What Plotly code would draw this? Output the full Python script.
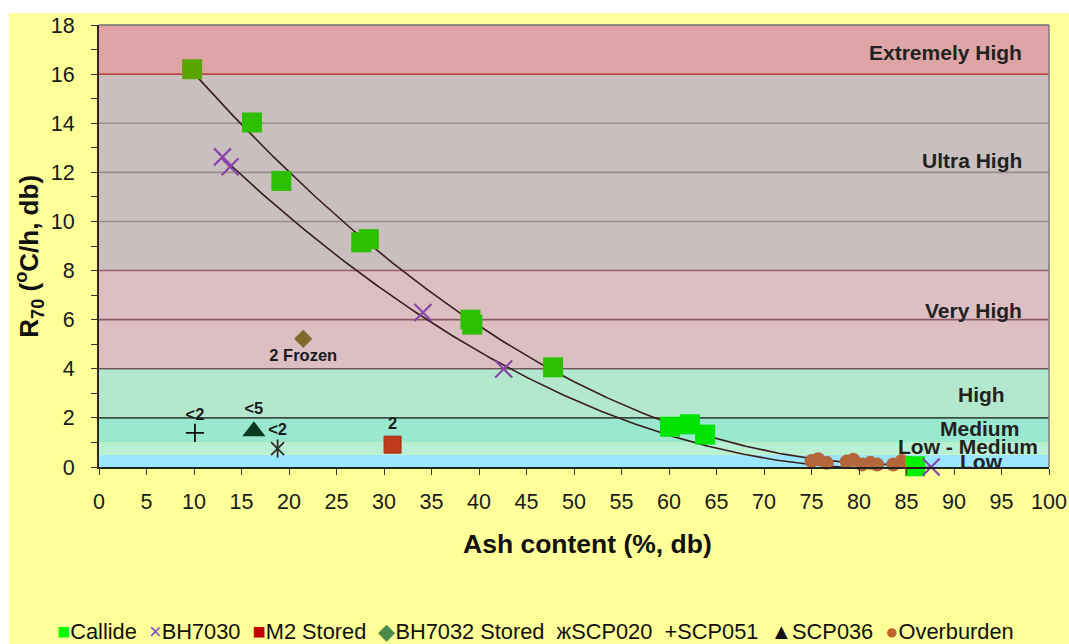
import numpy as np
import plotly.graph_objects as go

# ---------------- data ----------------
callide_x = [9.8, 16.1, 19.2, 27.6, 28.4, 39.1, 39.3, 47.8, 60.1, 62.2, 63.8, 85.9]
callide_y = [16.2, 14.03, 11.65, 9.15, 9.28, 6.0, 5.8, 4.06, 1.64, 1.74, 1.32, 0.03]

bh7030_x = [13.0, 13.8, 34.1, 42.6, 87.6]
bh7030_y = [12.63, 12.23, 6.29, 3.99, 0.0]

m2_x = [30.9]
m2_y = [0.91]
m2_text = ["2"]

bh7032_x = [21.5]
bh7032_y = [5.22]
bh7032_text = ["2 Frozen"]

scp020_x = [18.8]
scp020_y = [0.75]
scp020_text = ["<2"]

scp051_x = [10.1]
scp051_y = [1.39]
scp051_text = ["<2"]

scp036_x = [16.3]
scp036_y = [1.46]
scp036_text = ["<5"]

overburden_x = [75.0, 75.7, 76.6, 78.7, 79.4, 80.3, 81.2, 81.9, 83.6, 84.5, 85.2]
overburden_y = [0.24, 0.32, 0.17, 0.22, 0.30, 0.10, 0.17, 0.10, 0.10, 0.24, 0.17]

band_names = ["Low", "Low - Medium", "Medium", "High", "Very High", "Ultra High", "Extremely High"]
band_lo = [0, 0.5, 1, 2, 4, 8, 16]
band_hi = [0.5, 1, 2, 4, 8, 16, 18]

x_ticks = list(range(0, 101, 5))
y_ticks = list(range(0, 19, 2))

# ---------------- styles ----------------
FONT = "Arial, Liberation Sans, sans-serif"
band_fill = ["#9BE6FF", "#B8F0D4", "#99E8D0", "#B3E8CF", "#DBBFC3", "#C9BFBF", "#DFA4A6"]
band_label_pos = {  # (x, y, xanchor)
    "Low": (92.9, 0.22, "center"),
    "Low - Medium": (91.5, 0.83, "center"),
    "Medium": (92.7, 1.55, "center"),
    "High": (92.9, 2.95, "center"),
    "Very High": (97.4, 6.36, "right"),
    "Ultra High": (97.4, 12.5, "right"),
    "Extremely High": (97.4, 16.9, "right"),
}
grid_colors = {2: "#3E4E44", 4: "#6B5858", 6: "#8C5A62", 8: "#9A5E6C",
               10: "#9C8C8C", 12: "#9C8C8C", 14: "#9C8C8C", 16: "#B84848"}
callide_colors = ["#5AA500"] + ["#2EBF00"] * 7 + ["#00E400"] * 3 + ["#00F000"]


def trend(xs, ys):
    c = np.polyfit(xs, ys, 2)
    xx = np.linspace(min(xs), max(xs), 300)
    return xx, np.polyval(c, xx)


fig = go.Figure()

lblfont = dict(family=FONT, size=16.5, color="#1A1A1A", weight="bold")

# trend lines
tx, ty = trend(callide_x, callide_y)
fig.add_trace(go.Scatter(x=tx, y=ty, mode="lines", line=dict(color="#3A1E1E", width=1.6),
                         showlegend=False, hoverinfo="skip"))
tx, ty = trend(bh7030_x, bh7030_y)
fig.add_trace(go.Scatter(x=tx, y=ty, mode="lines", line=dict(color="#3A1E1E", width=1.6),
                         showlegend=False, hoverinfo="skip"))

fig.add_trace(go.Scatter(x=overburden_x, y=overburden_y, mode="markers", name="Overburden",
                         marker=dict(symbol="circle", size=14, color="#B4673A",
                                     line=dict(width=0)), showlegend=False))
fig.add_trace(go.Scatter(x=callide_x, y=callide_y, mode="markers", name="Callide",
                         marker=dict(symbol="square", size=20, color=callide_colors,
                                     line=dict(width=0)), showlegend=False))
fig.add_trace(go.Scatter(x=bh7030_x, y=bh7030_y, mode="markers", name="BH7030",
                         marker=dict(symbol="x-thin-open", size=17, color="#8A45AA",
                                     line=dict(width=2.2, color="#8A45AA")), showlegend=False))
fig.add_trace(go.Scatter(x=m2_x, y=m2_y, mode="markers+text", name="M2 Stored",
                         text=m2_text, textposition="top center", textfont=lblfont,
                         marker=dict(symbol="square", size=17, color="#C23A1C",
                                     line=dict(width=1, color="#A02A14")), showlegend=False))
fig.add_trace(go.Scatter(x=bh7032_x, y=bh7032_y, mode="markers+text", name="BH7032 Stored",
                         text=bh7032_text, textposition="bottom center", textfont=lblfont,
                         marker=dict(symbol="diamond", size=14, color="#7F6A2E",
                                     line=dict(width=0)), showlegend=False))
fig.add_trace(go.Scatter(x=scp020_x, y=scp020_y, mode="markers+text", name="SCP020",
                         text=scp020_text, textposition="top center", textfont=lblfont,
                         marker=dict(symbol="x-thin-open", size=13, color="#2E2E2E",
                                     line=dict(width=1.8, color="#2E2E2E")), showlegend=False))
fig.add_trace(go.Scatter(x=scp020_x, y=scp020_y, mode="markers",
                         marker=dict(symbol="line-ns-open", size=13, color="#2E2E2E",
                                     line=dict(width=1.8, color="#2E2E2E")),
                         showlegend=False, hoverinfo="skip"))
fig.add_trace(go.Scatter(x=scp051_x, y=scp051_y, mode="markers+text", name="SCP051",
                         text=scp051_text, textposition="top center", textfont=lblfont,
                         marker=dict(symbol="cross-thin-open", size=13, color="#111111",
                                     line=dict(width=1.8, color="#111111")), showlegend=False))
fig.add_trace(go.Scatter(x=scp036_x, y=scp036_y, mode="markers+text", name="SCP036",
                         text=scp036_text, textposition="top center", textfont=lblfont,
                         marker=dict(symbol="triangle-up", size=20, color="#0B3A22",
                                     line=dict(width=0)), showlegend=False))

shapes = []
# white outer margin strips (picture border)
shapes.append(dict(type="rect", xref="paper", yref="paper", x0=-0.2, x1=1.1,
                   y0=(467.5 - 13) / 442.5, y1=1.2, fillcolor="white", line_width=0, layer="below"))
shapes.append(dict(type="rect", xref="paper", yref="paper", x0=-0.2, x1=(9 - 99) / 950,
                   y0=-0.5, y1=1.2, fillcolor="white", line_width=0, layer="below"))
# bands
for lo, hi, col in zip(band_lo, band_hi, band_fill):
    shapes.append(dict(type="rect", xref="x", yref="y", x0=0, x1=100, y0=lo, y1=hi,
                       fillcolor=col, line_width=0, layer="below"))
# grid lines
for yv, col in grid_colors.items():
    shapes.append(dict(type="line", xref="x", yref="y", x0=0, x1=100, y0=yv, y1=yv,
                       line=dict(color=col, width=1.6), layer="between"))
# top / right frame
shapes.append(dict(type="line", xref="paper", yref="paper", x0=0, x1=1, y0=1, y1=1,
                   line=dict(color="#6E6E6E", width=1.5)))
shapes.append(dict(type="line", xref="paper", yref="paper", x0=1, x1=1, y0=0, y1=1,
                   line=dict(color="#7E7E7E", width=1.5)))

annotations = []
for name in band_names:
    bx, by, anc = band_label_pos[name]
    annotations.append(dict(x=bx, y=by, xref="x", yref="y", text=name, showarrow=False,
                            xanchor=anc, yanchor="middle",
                            font=dict(family=FONT, size=21, color="#222222", weight="bold")))

annotations.append(dict(x=(587 - 99) / 950, y=(467.5 - 545) / 442.5, xref="paper", yref="paper",
                        text="Ash content (%, db)", showarrow=False,
                        xanchor="center", yanchor="middle",
                        font=dict(family=FONT, size=26.5, color="#111111", weight="bold")))
annotations.append(dict(x=(29 - 99) / 950, y=(467.5 - 257) / 442.5, xref="paper", yref="paper",
                        text="R<sub>70</sub> (<sup>o</sup>C/h, db)", showarrow=False, textangle=-90,
                        xanchor="center", yanchor="middle",
                        font=dict(family=FONT, size=26, color="#111111", weight="bold")))

legend_items = [("■", "#00FF00", "Callide"), ("×", "#8050C0", "BH7030"),
                ("■", "#C00000", "M2 Stored"), ("◆", "#4A8A4A", "BH7032 Stored"),
                ("ж", "#111111", "SCP020"), ("+", "#111111", "SCP051"),
                ("▲", "#111111", "SCP036"), ("●", "#C0622A", "Overburden")]
legend_text = "  ".join(f"<span style='color:{c}'>{s}</span>{t}" for s, c, t in legend_items)
annotations.append(dict(x=(535 - 99) / 950, y=(467.5 - 632) / 442.5, xref="paper", yref="paper",
                        text=legend_text, showarrow=False, xanchor="center", yanchor="middle",
                        font=dict(family=FONT, size=21.8, color="#111111")))

fig.update_layout(
    width=1069, height=644,
    margin=dict(l=99, r=20, t=25, b=176.5, pad=0, autoexpand=False),
    paper_bgcolor="#FFFF99",
    plot_bgcolor="rgba(0,0,0,0)",
    shapes=shapes, annotations=annotations,
    showlegend=False,
    xaxis=dict(range=[0, 100], tickvals=x_ticks, showgrid=False, zeroline=False,
               automargin=False,
               showline=True, linecolor="#222222", linewidth=1.5,
               ticks="outside", ticklen=6, tickcolor="#333333", tickwidth=1.2,
               ticklabelstandoff=8,
               tickfont=dict(family=FONT, size=21.5, color="#1A1A1A")),
    yaxis=dict(range=[0, 18], tickvals=y_ticks, showgrid=False, zeroline=False,
               automargin=False,
               showline=True, linecolor="#3A2222", linewidth=2,
               ticks="outside", ticklen=6, tickcolor="#333333", tickwidth=1.2,
               ticklabelstandoff=12,
               minor=dict(dtick=1, ticks="outside", ticklen=6, tickcolor="#333333", showgrid=False),
               tickfont=dict(family=FONT, size=21.5, color="#1A1A1A")),
)

for tr in fig.data:
    tr.cliponaxis = False

fig.write_html(
    "out.html",
    config={"displayModeBar": False},
    post_script="document.body.style.margin='0';document.body.style.padding='0';"
                "document.body.style.overflow='hidden';"
                "document.documentElement.style.overflow='hidden';",
)
